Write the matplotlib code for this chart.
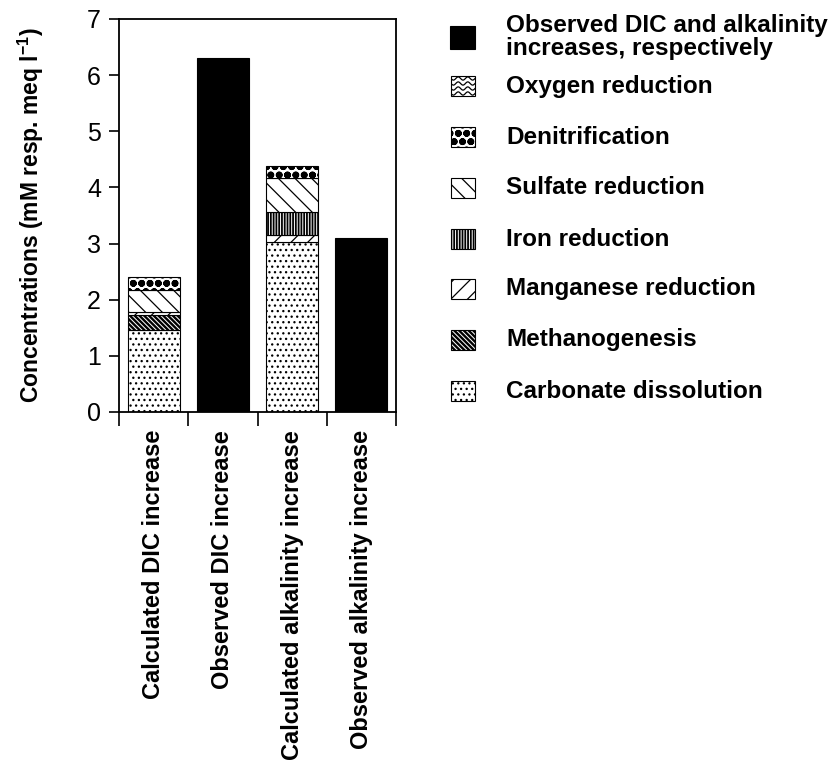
import matplotlib
matplotlib.use("Agg")
import matplotlib.pyplot as plt
from matplotlib.patches import Rectangle
from matplotlib.lines import Line2D
import numpy as np

plt.rcParams['font.family'] = ['Liberation Sans', 'DejaVu Sans']
plt.rcParams['mathtext.fontset'] = 'custom'
plt.rcParams['mathtext.rm'] = 'Liberation Sans'
plt.rcParams['mathtext.bf'] = 'Liberation Sans:bold'
plt.rcParams['hatch.linewidth'] = 0.9

categories = ["Calculated DIC increase", "Observed DIC increase",
              "Calculated alkalinity increase", "Observed alkalinity increase"]

# Stacked components (bottom to top) for calculated bars
processes = ["Carbonate dissolution", "Methanogenesis", "Manganese reduction",
             "Iron reduction", "Sulfate reduction", "Denitrification", "Oxygen reduction"]
calc_dic = [1.46, 0.27, 0.05, 0.00, 0.40, 0.23, 0.00]
calc_alk = [3.03, 0.00, 0.12, 0.42, 0.60, 0.21, 0.00]

observed_dic = 6.3
observed_alk = 3.1

hatches = {
    "Carbonate dissolution": "...",
    "Methanogenesis": "\\\\\\\\\\\\\\",
    "Manganese reduction": "//",
    "Iron reduction": "||||||",
    "Sulfate reduction": "\\\\",
    "Denitrification": "oo",
    "Oxygen reduction": None,
}
hatch_lw = {"Denitrification": 2.5, "Methanogenesis": 1.7, "Iron reduction": 1.3}

fig = plt.figure(figsize=(8.35, 7.82), dpi=100)
ax = fig.add_axes([119/835, 1-412/782, (396-119)/835, (412-19)/782])

x = np.arange(len(categories))
width = 0.75

def bar(xpos, h, bottom, hatch, name=None):
    b = ax.bar(xpos, h, width, bottom=bottom, color='white', edgecolor='black',
               linewidth=0.8, hatch=hatch)
    if name in hatch_lw:
        for p in b:
            if hasattr(p, 'set_hatch_linewidth'):
                p.set_hatch_linewidth(hatch_lw[name])
    return b

for idx, vals in [(0, calc_dic), (2, calc_alk)]:
    bottom = 0.0
    for name, v in zip(processes, vals):
        if v > 0:
            bar(x[idx], v, bottom, hatches[name], name=name)
        bottom += v

ax.bar(x[1], observed_dic, width, color='black', edgecolor='black', linewidth=0.8)
ax.bar(x[3], observed_alk, width, color='black', edgecolor='black', linewidth=0.8)

ax.set_xlim(-0.5, 3.5)
ax.set_ylim(0, 7)
ax.set_yticks(range(0, 8))
ax.tick_params(axis='y', direction='out', length=7, width=1.2, labelsize=18, pad=6)
ax.set_xticks(x)
ax.set_xticklabels(categories, rotation=90, fontsize=17, fontweight='bold')
ax.set_xticks(np.arange(-0.5, 4.0, 1.0), minor=True)
ax.tick_params(axis='x', which='major', length=0, pad=13)
ax.tick_params(axis='x', which='minor', direction='out', length=10, width=1.2)
for s in ax.spines.values():
    s.set_linewidth(1.3)

ax.set_ylabel(r'Concentrations (mM resp. meq l$^{\mathbf{-1}}$)', fontsize=16.5,
              fontweight='bold')
ax.yaxis.set_label_coords(-(119-46)/277, 0.5)

# Legend drawn manually
legend_names = ["Observed DIC and alkalinity\nincreases, respectively",
                "Oxygen reduction", "Denitrification", "Sulfate reduction",
                "Iron reduction", "Manganese reduction", "Methanogenesis",
                "Carbonate dissolution"]
legend_y = [37, 86, 137, 188, 239, 289, 340, 391]
W, H = 835, 782
for i, (name, yc) in enumerate(zip(legend_names, legend_y)):
    if i == 0:
        r = Rectangle((450/W, 1-(yc+12)/H), 25/W, 23/H, transform=fig.transFigure,
                      facecolor='black', edgecolor='black', linewidth=0.8)
        fig.add_artist(r)
    else:
        r = Rectangle((451/W, 1-(yc+10)/H), 24/W, 20/H, transform=fig.transFigure,
                      facecolor='white', edgecolor='black', linewidth=0.8,
                      hatch=hatches[name])
        if name in hatch_lw and hasattr(r, 'set_hatch_linewidth'):
            r.set_hatch_linewidth(hatch_lw[name])
        fig.add_artist(r)
        if name == "Oxygen reduction":
            t = np.linspace(0, 1, 60)
            for k in range(4):
                yy = (yc - 7.5 + k * 5) + 1.6 * np.sin(2 * np.pi * 2.5 * t)
                ln = Line2D((451 + 24 * t) / W, 1 - yy / H, transform=fig.transFigure,
                            color='black', linewidth=0.9)
                ln.set_clip_path(r)
                fig.add_artist(ln)
    fig.text(506/W, 1-yc/H, name, fontsize=17.5, fontweight='bold',
             va='center', ha='left', linespacing=1.0)

fig.savefig("out.png", dpi=100)
